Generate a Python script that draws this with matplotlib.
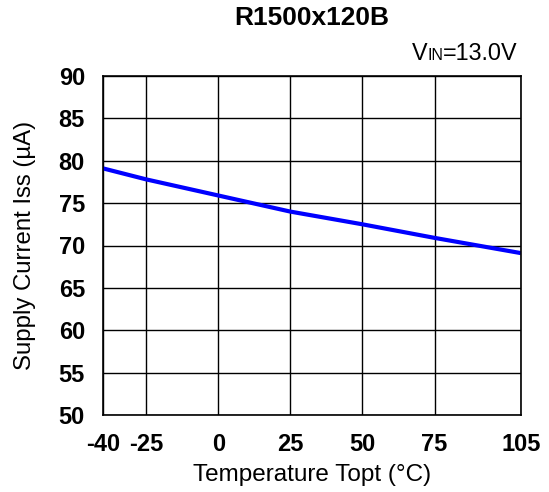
import matplotlib
matplotlib.use("Agg")
import matplotlib.pyplot as plt

temps = [-40, -25, 0, 25, 50, 75, 105]
current = [79.1, 77.8, 75.9, 74.0, 72.5, 70.9, 69.1]
xticks = [-40, -25, 0, 25, 50, 75, 105]
yticks = [50, 55, 60, 65, 70, 75, 80, 85, 90]

plt.rcParams['font.family'] = ['Liberation Sans', 'DejaVu Sans']

W, H = 549, 492
fig = plt.figure(figsize=(W/100, H/100), dpi=100)
ax = fig.add_axes([103/W, 1-415/H, (521-103)/W, (415-76)/H])
ax.plot(temps, current, color='#0000ff', lw=3.0, solid_capstyle='butt')
ax.set_xlim(-40, 105)
ax.set_ylim(50, 90)
ax.set_xticks(xticks)
ax.set_yticks(yticks)
ax.set_xticklabels([str(t) for t in xticks], fontsize=17, fontweight='bold')
ax.set_yticklabels([str(t) for t in yticks], fontsize=17, fontweight='bold')
ax.tick_params(axis='y', length=0, pad=13)
ax.tick_params(axis='x', length=0, pad=13)
ax.grid(True, color='black', lw=1.0)
for s in ax.spines.values():
    s.set_color('black')
    s.set_linewidth(1.2)
ax.set_xlabel('Temperature Topt (°C)', fontsize=17.5)
ax.xaxis.set_label_coords(0.5, (415-481)/339)
ax.xaxis.label.set_va('baseline')
ax.set_ylabel('Supply Current Iss (µA)', fontsize=17.3)
ax.yaxis.set_label_coords((25-103)/418, 0.5)
ax.yaxis.label.set_va('center')

fig.text(312/W, 1-25/H, 'R1500x120B', fontsize=19, fontweight='bold',
         ha='center', va='baseline')

# V_IN label with small-caps "IN"
fig.canvas.draw()
r = fig.canvas.get_renderer()
yb = 1-60/H
t3 = fig.text(518/W, yb, '=13.0V', fontsize=16.8, ha='right', va='baseline')
e3 = t3.get_window_extent(r)
t2 = fig.text(e3.x0/W, yb, 'IN', fontsize=11.5, ha='right', va='baseline')
e2 = t2.get_window_extent(r)
fig.text(e2.x0/W, yb, 'V', fontsize=16.8, ha='right', va='baseline')

fig.savefig('out.png', dpi=100)
